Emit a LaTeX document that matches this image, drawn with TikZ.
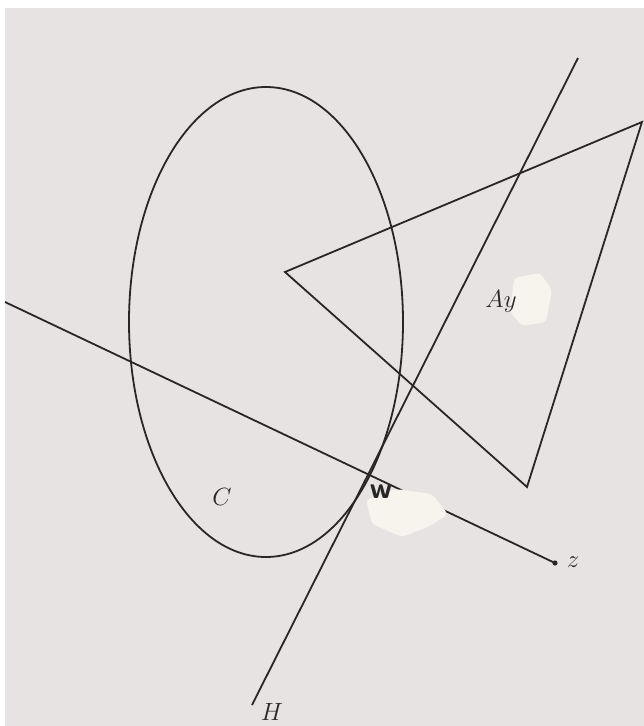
\documentclass[tikz,border=0pt]{standalone}
\usepackage{fontspec}
\usepackage{tikz}
\usetikzlibrary{positioning,calc}
\definecolor{paper}{RGB}{231,227,227}
\definecolor{ink}{RGB}{40,38,38}
\definecolor{tape}{RGB}{246,244,236}

\begin{document}
\begin{tikzpicture}[
    x=1pt, y=-1pt,
    line/.style={draw=ink, line width=1.8pt},
    lbl/.style={text=ink, font=\fontsize{28}{30}\selectfont, inner sep=0pt},
    patch/.style={fill=tape, rounded corners=4pt}
]
    % paper
    \useasboundingbox (0,0) rectangle (644,726);
    \fill[white] (0,0) rectangle (644,726);
    \fill[paper] (5,8) rectangle (644,726);

    % points
    \coordinate (ctr) at (266,322);
    \coordinate (tr) at (642,122);
    \coordinate (tl) at (285,272);
    \coordinate (tb) at (527,487);
    \coordinate (zs) at (5,302);
    \coordinate (zend) at (555,563);
    \coordinate (hs) at (578,58);
    \coordinate (hend) at (252,705);

    \draw[line] (ctr) ellipse [x radius=137pt, y radius=235pt];
    \draw[line, line join=miter] (tr) -- (tl) -- (tb) -- cycle;
    \draw[line] (zs) -- (zend);
    \draw[line] (hs) -- (hend);
    \fill[ink] (zend) circle (2.6pt);

    % tape patches
    \fill[patch] (514,278) -- (540,273) -- (552,290) -- (546,322) -- (522,326) -- (510,312) -- cycle;
    \fill[patch] (366,500) -- (396,489) -- (432,494) -- (448,514) -- (430,526) -- (402,537) -- (372,524) -- cycle;

    \node[lbl] (ay) at (501,301) {$Ay$};
    \node[lbl] (c) at (222,497) {$C$};
    \node[lbl, font=\sffamily\bfseries\fontsize{30}{32}\selectfont] (w) at (381,492) {w};
    \node[lbl] (z) at (573,562) {$z$};
    \node[lbl] (h) at (272,712) {$H$};
\end{tikzpicture}
\end{document}
